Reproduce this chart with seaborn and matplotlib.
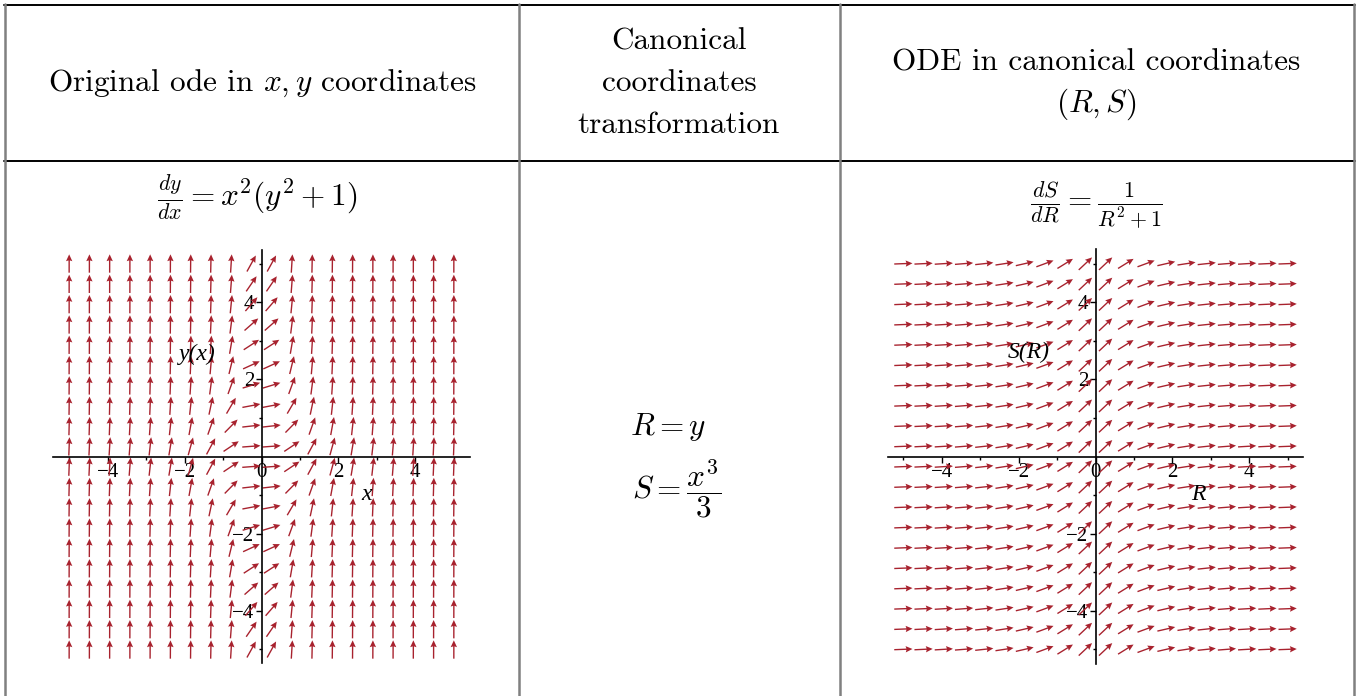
import numpy as np
import matplotlib
matplotlib.use("Agg")
import matplotlib.pyplot as plt
from matplotlib.lines import Line2D
import seaborn as sns

# ------------------------------------------------------------------
# DATA
# ------------------------------------------------------------------
# 20 x 20 grid of arrow centres (same in both direction fields)
grid_vals = [-5.0, -4.474, -3.947, -3.421, -2.895, -2.368, -1.842, -1.316,
             -0.789, -0.263, 0.263, 0.789, 1.316, 1.842, 2.368, 2.895,
             3.421, 3.947, 4.474, 5.0]
major_ticks = [-4, -2, 0, 2, 4]
y_major_ticks = [-4, -2, 2, 4]
minor_ticks = [-5, -3, -1, 1, 3, 5]
tick_labels = ["\u22124", "\u22122", "0", "2", "4"]
y_tick_labels = ["\u22124", "\u22122", "2", "4"]

# slopes shown in the table: dy/dx = x^2 (y^2+1) and dS/dR = 1/(R^2+1)
def slope_xy(x, y):
    return x ** 2 * (y ** 2 + 1)

def slope_rs(r, s):
    return 1.0 / (r ** 2 + 1)

headers = ["Original ode in $x, y$ coordinates",
           "Canonical\ncoordinates\ntransformation",
           "ODE in canonical coordinates"]
ode_left = r"$\frac{dy}{dx} = x^2(y^2+1)$"
ode_right = r"$\frac{dS}{dR} = \frac{1}{R^2+1}$"

ARROW_LEN = 0.475
ARROW_COLOR = "#a8222e"

# ------------------------------------------------------------------
# STYLE
# ------------------------------------------------------------------
sns.set_theme(style="white")
plt.rcParams["font.family"] = ["cmr10", "DejaVu Serif"]
plt.rcParams["mathtext.fontset"] = "cm"
plt.rcParams["axes.unicode_minus"] = True
for key in ["text.color", "axes.labelcolor", "xtick.color", "ytick.color"]:
    plt.rcParams[key] = "black"

W, H = 1358, 696
fig = plt.figure(figsize=(W / 100, H / 100), dpi=100)
fig.patch.set_facecolor("white")


def fx(px):
    return px / W


def fy(py):
    return 1 - py / H


# ------------------------------------------------------------------
# TABLE FRAME + TEXT
# ------------------------------------------------------------------
for yy in [4.5, 160.5]:
    fig.add_artist(Line2D([fx(4), fx(1355)], [fy(yy), fy(yy)], color="black", lw=1.4))
for xx in [5, 518.5, 839.5, 1354]:
    fig.add_artist(Line2D([fx(xx), fx(xx)], [fy(4), fy(696)], color="#808080", lw=1.8))

HS = 22.5
fig.text(fx(262), fy(83), headers[0], ha="center", va="center", fontsize=HS)
for i, line in enumerate(headers[1].split("\n")):
    fig.text(fx(679), fy(42 + 41.5 * i), line, ha="center", va="center", fontsize=HS)
fig.text(fx(1096), fy(63), headers[2], ha="center", va="center", fontsize=HS)
fig.text(fx(1096), fy(104), r"$(R, S)$", ha="center", va="center", fontsize=HS)

fig.text(fx(257), fy(197), ode_left, ha="center", va="center", fontsize=HS)
fig.text(fx(1096), fy(205), ode_right, ha="center", va="center", fontsize=HS)

fig.text(fx(668), fy(427), r"$R = y$", ha="center", va="center", fontsize=HS)
fig.text(fx(677), fy(490), r"$S = \dfrac{x^3}{3}$", ha="center", va="center", fontsize=HS)


# ------------------------------------------------------------------
# DIRECTION FIELDS
# ------------------------------------------------------------------
def direction_field(rect, slope, lims, xlab, ylab, xlab_pos, ylab_pos):
    ax = fig.add_axes(rect)
    gx, gy = np.meshgrid(grid_vals, grid_vals)
    m = slope(gx, gy)
    norm = np.sqrt(1 + m ** 2)
    u = ARROW_LEN / norm
    v = ARROW_LEN * m / norm
    ax.quiver(gx, gy, u, v, angles="xy", scale_units="xy", scale=1, pivot="mid",
              color=ARROW_COLOR, width=0.0033, headwidth=4.6, headlength=5.0,
              headaxislength=4.4, zorder=2)
    ax.set_xlim(-lims[0], lims[0])
    ax.set_ylim(-lims[1], lims[1])
    ax.set_facecolor("none")
    for side in ["top", "right"]:
        ax.spines[side].set_visible(False)
    for side in ["left", "bottom"]:
        ax.spines[side].set_position(("data", 0))
        ax.spines[side].set_color("black")
        ax.spines[side].set_linewidth(1.2)
        ax.spines[side].set_zorder(3)
    ax.set_xticks(major_ticks)
    ax.set_xticklabels(tick_labels)
    ax.set_yticks(y_major_ticks)
    ax.set_yticklabels(y_tick_labels)
    ax.set_xticks(minor_ticks, minor=True)
    ax.set_yticks(minor_ticks, minor=True)
    ax.tick_params(which="major", direction="out", length=4, width=1, color="black",
                   labelsize=15, labelcolor="black", pad=1, bottom=True, left=True)
    ax.tick_params(which="minor", direction="out", length=2.5, width=1, color="black",
                   bottom=True, left=True)
    for lab in ax.get_xticklabels() + ax.get_yticklabels():
        lab.set_family(["Liberation Serif", "DejaVu Serif"])
        lab.set_zorder(4)
    ax.text(xlab_pos[0], xlab_pos[1], xlab, ha="center", va="center", fontsize=17,
            family=["Liberation Serif"], style="italic", color="black", zorder=4)
    ax.text(ylab_pos[0], ylab_pos[1], ylab, ha="center", va="center", fontsize=17,
            family=["Liberation Serif"], style="italic", color="black", zorder=4)
    ax.grid(False)
    return ax


direction_field([fx(53), fy(663), fx(417), 413 / H], slope_xy, (5.42, 5.35),
                "x", "y(x)", (2.72, -0.98), (-1.66, 2.64))
direction_field([fx(888), fy(664), fx(415), 415 / H], slope_rs, (5.40, 5.38),
                "R", "S(R)", (2.67, -0.98), (-1.73, 2.69))

fig.savefig("out.png", dpi=100, facecolor="white")
